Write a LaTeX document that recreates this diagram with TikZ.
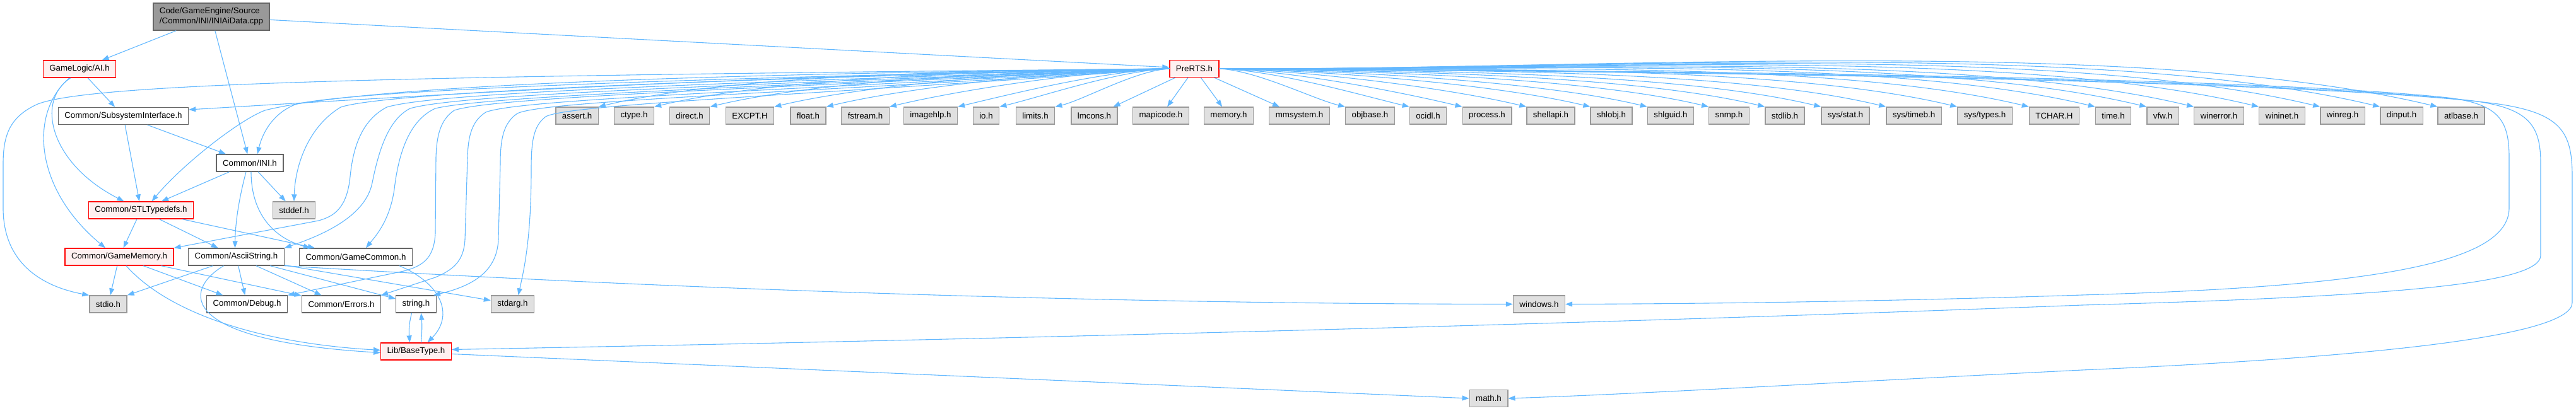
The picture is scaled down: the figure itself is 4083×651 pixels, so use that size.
\documentclass[tikz,border=0pt]{standalone}
\usepackage{fontspec}
\setmainfont{Liberation Sans}
\usetikzlibrary{arrows.meta,calc}
\definecolor{dgEdge}{HTML}{63B8FF}
\definecolor{dgRule}{HTML}{666666}
\definecolor{dgSysRule}{HTML}{999999}
\definecolor{dgSysFill}{HTML}{E0E0E0}
\definecolor{dgRed}{HTML}{FF0000}
\definecolor{dgRedFill}{HTML}{FFF0F0}
\definecolor{dgRoot}{HTML}{999999}

\begin{document}
\begin{tikzpicture}[x=1pt,y=-1pt,
    font=\fontsize{13.3}{16}\selectfont,
    filebox/.style={draw=dgRule,fill=white,line width=1.3pt,
                    inner xsep=10pt,inner ysep=0pt,minimum height=27pt},
    redbox/.style={filebox,draw=dgRed,fill=dgRedFill},
    sysbox/.style={filebox,draw=dgSysRule,fill=dgSysFill},
    dep/.style={draw=dgEdge,line width=1.1pt,
                -{Triangle[length=11pt,width=8pt]}}]
    \useasboundingbox (0,0) rectangle (4083,651);

    % files of the tree
    \node[filebox,fill=dgRoot,align=left,minimum height=43pt] (root) at (335,26.5)
        {Code/GameEngine/Source\\/Common/INI/INIAiData.cpp};
    \node[redbox]  (ai)      at (126,109.5)  {GameLogic/AI.h};
    \node[redbox]  (pre)     at (1893,109)   {PreRTS.h};
    \node[filebox] (sub)     at (195.5,184)  {Common/SubsystemInterface.h};
    \node[filebox] (ini)     at (396,258.5)  {Common/INI.h};
    \node[redbox]  (stl)     at (223.5,333.5){Common/STLTypedefs.h};
    \node[sysbox]  (stddef)  at (466,333.5)  {stddef.h};
    \node[redbox]  (gm)      at (189,407.5)  {Common/GameMemory.h};
    \node[filebox] (ascii)   at (374.5,407.5){Common/AsciiString.h};
    \node[filebox] (gc)      at (564,407.5)  {Common/GameCommon.h};
    \node[sysbox]  (stdio)   at (171.5,482.5){stdio.h};
    \node[filebox] (debug)   at (391.5,482.5){Common/Debug.h};
    \node[filebox] (errors)  at (541,482.5)  {Common/Errors.h};
    \node[filebox] (string)  at (659.5,482.5){string.h};
    \node[sysbox]  (stdarg)  at (812.5,482.5){stdarg.h};
    \node[redbox]  (bt)      at (659.5,557.5){Lib/BaseType.h};
    \node[sysbox]  (windows) at (2439.5,482.5){windows.h};
    \node[sysbox]  (math)    at (2359.5,632) {math.h};

    % system headers of PreRTS.h
    \foreach \n/\t/\x in {assert/assert.h/914.5, ctype/ctype.h/1005,
        direct/direct.h/1093, excpt/EXCPT.H/1188.5, float/float.h/1281,
        fstream/fstream.h/1371.5, imagehlp/imagehlp.h/1475, io/io.h/1563,
        limits/limits.h/1641, lmcons/lmcons.h/1734.5, mapicode/mapicode.h/1840,
        memory/memory.h/1947.5, mmsystem/mmsystem.h/2059.5,
        objbase/objbase.h/2171.5, ocidl/ocidl.h/2263.5, process/process.h/2357,
        shellapi/shellapi.h/2458, shlobj/shlobj.h/2554, shlguid/shlguid.h/2648,
        snmp/snmp.h/2740.5, stdlib/stdlib.h/2829, sysstat/{sys/stat.h}/2925,
        systimeb/{sys/timeb.h}/3033.5, systypes/{sys/types.h}/3146,
        tchar/TCHAR.H/3256, time/time.h/3349.5, vfw/vfw.h/3428,
        winerror/winerror.h/3517, wininet/wininet.h/3617, winreg/winreg.h/3713,
        dinput/dinput.h/3806.5, atlbase/atlbase.h/3901}
      \node[sysbox] (\n) at (\x,183.5) {\t};

    \foreach \h in {assert,ctype,direct,excpt,float,fstream,imagehlp,io,limits}
      \draw[dep] let \p1=(pre.west), \p2=(\h.north east) in
        (\p1) .. controls ({\x1+0.3*(\x2-\x1)},{\y1-3pt})
                    and ({\x2-0.25*(\x2-\x1)},{\y2-0.06*(\x2-\x1)}) .. (\p2);
    \foreach \h in {lmcons,mapicode,memory,mmsystem}
      \draw[dep] (pre) -- (\h);
    \foreach \h in {objbase,ocidl,process,shellapi,shlobj,shlguid,snmp,stdlib,
        sysstat,systimeb,systypes,tchar,time,vfw,winerror,wininet,winreg,dinput,atlbase}
      \draw[dep] let \p1=(pre.east), \p2=(\h.north west) in
        (\p1) .. controls ({\x1+0.3*(\x2-\x1)},{\y1-3pt})
                    and ({\x2-0.25*(\x2-\x1)},{\y2+0.06*(\x2-\x1)}) .. (\p2);

    % edges of the tree
    \draw[dep] (root) -- (ai);
    \draw[dep] (root) -- (ini);
    \draw[dep] (root) -- (pre);
    \draw[dep] (ai) -- (sub);
    \draw[dep] ([xshift=-14pt]ai.south) .. controls (55,160) and (80,260) .. ([xshift=-27pt]stl.north);
    \draw[dep] ([xshift=-16pt]ai.south) .. controls (45,180) and (55,300) .. ([xshift=-22pt]gm.north);
    \draw[dep] (sub) -- (stl);
    \draw[dep] (sub) -- (ini);
    \draw[dep] (ini) -- (stl);
    \draw[dep] (ini) -- (stddef);
    \draw[dep] ([xshift=-6pt]ini.south) .. controls (380,310) and (373,350) .. ([xshift=-2pt]ascii.north);
    \draw[dep] ([xshift=2pt]ini.south) .. controls (398,340) and (435,378) .. ([xshift=-72pt]gc.north);
    \draw[dep] (stl) -- (gm);
    \draw[dep] (stl) -- (ascii);
    \draw[dep] (stl) -- (gc);
    \draw[dep] (gm) -- (stdio);
    \draw[dep] (gm) -- (debug);
    \draw[dep] (gm) -- (errors);
    \draw[dep] ([xshift=11pt]gm.south) .. controls (270,500) and (420,545) .. ([yshift=2pt]bt.west);
    \draw[dep] ([xshift=-37pt]ascii.south) -- (stdio.north east);
    \draw[dep] ([xshift=-20pt]ascii.south) .. controls (290,460) and (280,540) .. ([yshift=-2pt]bt.west);
    \draw[dep] (ascii) -- (debug);
    \draw[dep] (ascii) -- (errors);
    \draw[dep] (ascii) -- (string);
    \draw[dep] (ascii) -- (stdarg);
    \draw[dep] (ascii.south east) .. controls (1000,455) and (1700,482) .. (windows.west);
    \draw[dep] ([xshift=69pt]gc.south) .. controls (700,450) and (720,500) .. ([xshift=18pt]bt.north);
    \draw[dep] ([xshift=-7pt]string.south) .. controls (648,515) and (648,525) .. ([xshift=-10pt]bt.north);
    \draw[dep] ([xshift=8pt]bt.north) .. controls (669,525) and (669,515) .. ([xshift=8pt]string.south);
    \draw[dep] ([yshift=-4pt]bt.east) -- (math.west);

    % PreRTS.h down into the tree
    \draw[dep] (pre.west) .. controls (700,120) and (150,130) .. (60,165)
        .. controls (15,185) and (5,215) .. (5,260) -- (5,330)
        .. controls (5,420) and (70,455) .. (stdio.north west);
    \draw[dep] (pre.west) .. controls (1200,118) and (700,150) .. ([yshift=10pt]sub.east);
    \draw[dep] (pre.west) .. controls (1000,118) and (560,140) .. (420,175)
        .. controls (380,190) and (290,260) .. ([xshift=17pt]stl.north);
    \draw[dep] (pre.west) .. controls (1000,125) and (560,145) .. (470,165)
        .. controls (430,180) and (415,215) .. ([xshift=12pt]ini.north);
    \draw[dep] (pre.west) .. controls (1000,128) and (600,150) .. (540,170)
        .. controls (490,200) and (468,260) .. (stddef.north);
    \draw[dep] (pre.west) .. controls (1000,135) and (680,150) .. (613,170)
        .. controls (575,190) and (560,230) .. (555,280)
        .. controls (550,330) and (530,343) .. (505,350) -- (gm.north east);
    \draw[dep] (pre.west) .. controls (1050,138) and (720,152) .. (650,172)
        .. controls (615,190) and (600,240) .. (590,290)
        .. controls (580,340) and (520,370) .. (ascii.north east);
    \draw[dep] (pre.west) .. controls (1100,140) and (760,155) .. (690,172)
        .. controls (650,190) and (632,240) .. (625,300)
        .. controls (618,350) and (595,375) .. ([xshift=16pt]gc.north);
    \draw[dep] (pre.west) .. controls (1150,142) and (780,155) .. (720,175)
        .. controls (698,190) and (692,215) .. (691,250) -- (690,370)
        .. controls (688,410) and (670,422) .. (640,430) -- (debug.north east);
    \draw[dep] (pre.west) .. controls (1200,145) and (820,158) .. (770,178)
        .. controls (748,192) and (742,215) .. (741,250) -- (737,380)
        .. controls (735,415) and (718,428) .. (690,440) -- (errors.north east);
    \draw[dep] (pre.west) .. controls (1250,148) and (860,160) .. (820,180)
        .. controls (798,195) and (793,220) .. (793,260) -- (790,380)
        .. controls (788,420) and (765,450) .. ([xshift=-5pt]string.north east);
    \draw[dep] (pre.west) .. controls (1300,150) and (900,165) .. (865,185)
        .. controls (845,200) and (842,225) .. (842,270)
        .. controls (842,380) and (830,430) .. ([xshift=9pt]stdarg.north);

    % PreRTS.h round the right side
    \draw[dep] (pre.east) .. controls (2800,112) and (3600,125) .. (3880,155)
        .. controls (3960,165) and (3977,190) .. (3977,250) -- (3977,330)
        .. controls (3977,420) and (3750,455) .. (3300,468)
        .. controls (3000,478) and (2700,482) .. (windows.east);
    \draw[dep] (pre.east) .. controls (2800,113) and (3650,128) .. (3920,160)
        .. controls (4010,172) and (4027,200) .. (4027,260) -- (4027,405)
        .. controls (4027,450) and (3800,470) .. (3300,484)
        .. controls (2500,515) and (1500,540) .. ([yshift=3pt]bt.east);
    \draw[dep] (pre.east) .. controls (2800,114) and (3700,130) .. (3960,165)
        .. controls (4060,180) and (4077,210) .. (4077,280) -- (4077,480)
        .. controls (4077,530) and (3800,565) .. (3300,587)
        .. controls (2900,607) and (2600,625) .. (math.east);
\end{tikzpicture}
\end{document}
